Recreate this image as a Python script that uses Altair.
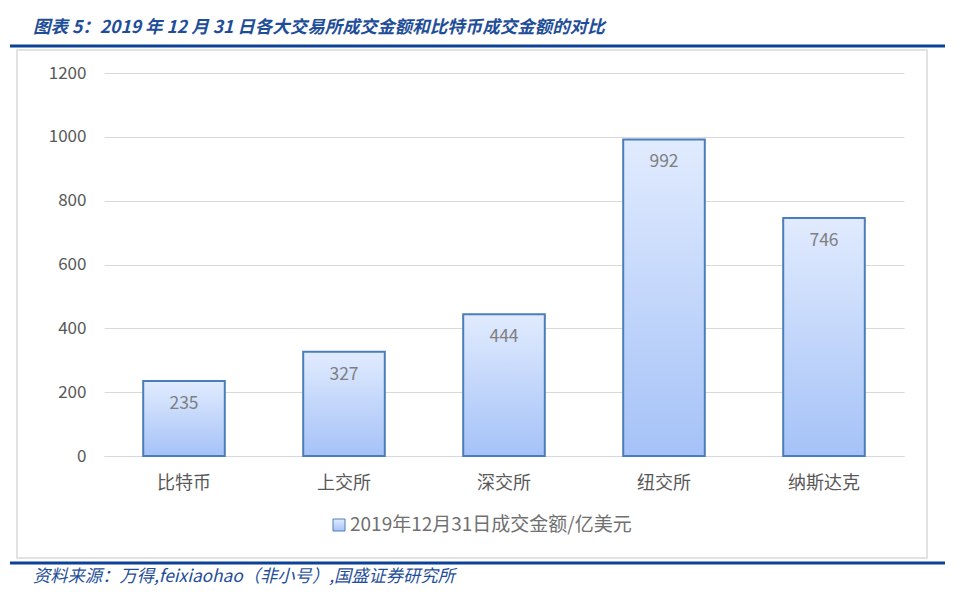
import altair as alt
import pandas as pd

categories = ["比特币", "上交所", "深交所", "纽交所", "纳斯达克"]
values = [235, 327, 444, 992, 746]
y_ticks = [0, 200, 400, 600, 800, 1000, 1200]
title_text = "图表 5：2019 年 12 月 31 日各大交易所成交金额和比特币成交金额的对比"
legend_text = "2019年12月31日成交金额/亿美元"
source_text = "资料来源：万得,feixiaohao（非小号）,国盛证券研究所"

df = pd.DataFrame({"exchange": categories, "value": values})
one = pd.DataFrame({"k": [0]})

FONT = "Noto Sans CJK SC"
BLUE = "#0b4196"
TEXT_BLUE = "#1f4e99"

grad = alt.Gradient(
    gradient="linear",
    stops=[alt.GradientStop(color="#e1ebfe", offset=0),
           alt.GradientStop(color="#a5c2f7", offset=1)],
    x1=0, x2=0, y1=0, y2=1,
)

x_enc = alt.X("exchange:N", sort=None, title=None,
              scale=alt.Scale(paddingInner=0.49, paddingOuter=0.245),
              axis=alt.Axis(labelAngle=0, labelFont=FONT, labelFontSize=18,
                            labelColor="#595959", labelPadding=18, ticks=False,
                            domainColor="#d9d9d9", domainWidth=1.2))
y_enc = alt.Y("value:Q", title=None,
              scale=alt.Scale(domain=[0, 1200], nice=False),
              axis=alt.Axis(values=y_ticks, format="d", labelFont=FONT,
                            labelFontSize=17, labelColor="#595959",
                            labelPadding=18, ticks=False, domain=False,
                            gridColor="#d9d9d9", gridWidth=1.2))

box = alt.Chart(one).mark_rect(filled=False, stroke="#d9d9d9", strokeWidth=1.5).encode(
    x=alt.value(-87), x2=alt.value(823), y=alt.value(-23), y2=alt.value(485))

bars = alt.Chart(df).mark_bar(fill=grad, stroke="#4a7ebb", strokeWidth=2).encode(
    x=x_enc, y=y_enc)

labels = alt.Chart(df).mark_text(font=FONT, fontSize=17.5, color="#7f7f7f",
                                 baseline="middle", dy=23).encode(
    x=alt.X("exchange:N", sort=None), y="value:Q", text="value:Q")

top_line = alt.Chart(one).mark_rule(color=BLUE, strokeWidth=3).encode(
    x=alt.value(-94), x2=alt.value(841), y=alt.value(-27))
bottom_line = alt.Chart(one).mark_rule(color=BLUE, strokeWidth=3).encode(
    x=alt.value(-94), x2=alt.value(841), y=alt.value(490))

title = alt.Chart(one).mark_text(font=FONT, fontSize=17.5, fontStyle="italic",
                                 fontWeight="bold", color=TEXT_BLUE,
                                 align="left", baseline="middle").encode(
    x=alt.value(-71), y=alt.value(-45), text=alt.value(title_text))

source = alt.Chart(one).mark_text(font=FONT, fontSize=17.3, fontStyle="italic",
                                  color=TEXT_BLUE, align="left",
                                  baseline="middle").encode(
    x=alt.value(-71), y=alt.value(504), text=alt.value(source_text))

leg_sym = alt.Chart(one).mark_rect(fill=grad, stroke="#4a7ebb", strokeWidth=1).encode(
    x=alt.value(229), x2=alt.value(241), y=alt.value(446), y2=alt.value(458))
leg_txt = alt.Chart(one).mark_text(font=FONT, fontSize=19, color="#707070",
                                   align="left", baseline="middle").encode(
    x=alt.value(246), y=alt.value(452), text=alt.value(legend_text))

chart = alt.layer(box, bars, labels, top_line, bottom_line, title, source,
                  leg_sym, leg_txt).properties(
    width=800, height=383,
    autosize=alt.AutoSizeParams(type="none"),
    padding={"left": 96, "top": 65, "right": 48, "bottom": 133},
).configure_view(stroke=None)

chart.save("out.html", embed_options={"renderer": "svg", "actions": False})
